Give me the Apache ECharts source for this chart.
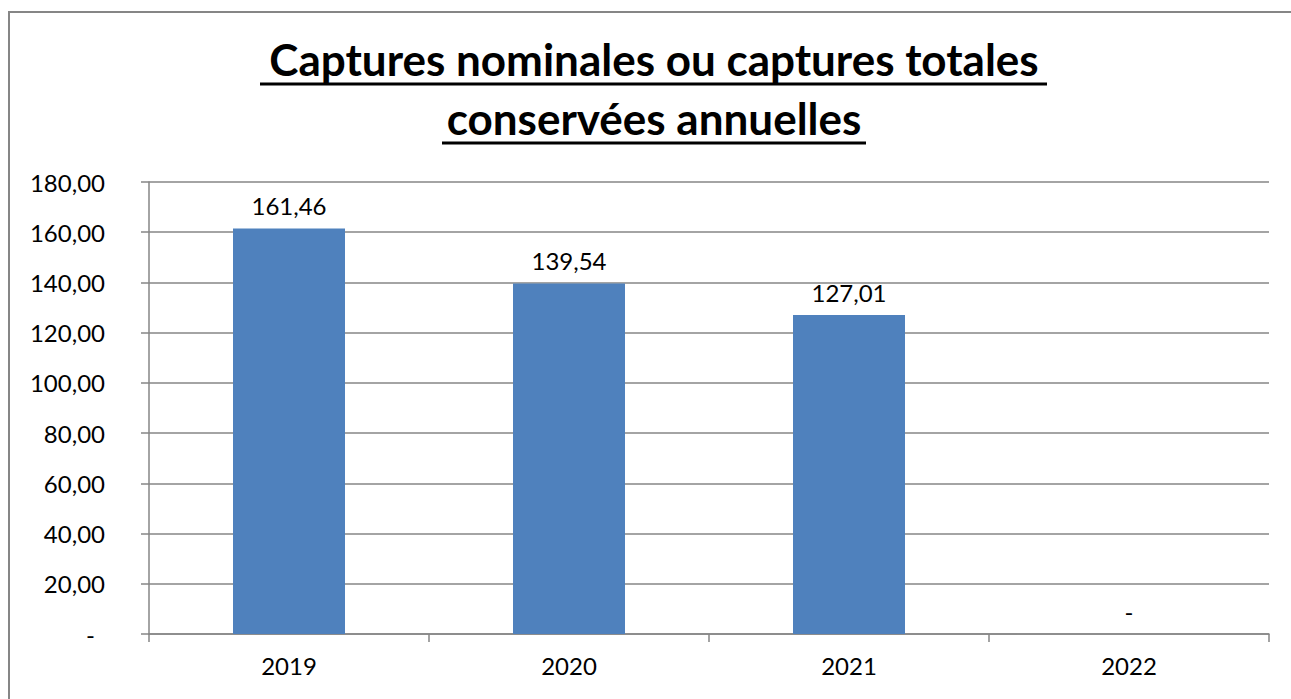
<!DOCTYPE html>
<html>
<head>
<meta charset="utf-8">
<script src="https://cdn.jsdelivr.net/npm/echarts@6/dist/echarts.min.js"></script>
<style>
html, body { margin: 0; padding: 0; background: #fff; overflow: hidden; }
.frame {
  position: absolute;
  left: 8px;
  top: 11px;
  width: 1300px;
  height: 700px;
  border: 2px solid #868686;
  box-sizing: border-box;
}
#chart {
  position: absolute;
  left: 8px;
  top: 11px;
  width: 1292px;
  height: 688px;
}
</style>
</head>
<body>
<div class="frame"></div>
<div id="chart"></div>
<script>
const title = 'Captures nominales ou captures totales\nconservées annuelles'
const years = ['2019', '2020', '2021', '2022']
const catches = [161.46, 139.54, 127.01, 0]
const yTicks = { min: 0, max: 180, interval: 20 }

const fmt = v => v === 0 ? '-' : v.toFixed(2).replace('.', ',')
const font = 'Lato, "Noto Sans", sans-serif'
const gray = '#868686'

const chart = echarts.init(document.getElementById('chart'), null, { renderer: 'svg' })
chart.setOption({
  animation: false,
  textStyle: { fontFamily: font },
  title: {
    text: title,
    left: 'center',
    top: 13,
    textStyle: {
      fontFamily: font,
      fontSize: 44,
      fontWeight: 'bold',
      color: '#000',
      lineHeight: 59
    }
  },
  // underline under the two title lines
  graphic: [
    { type: 'line', shape: { x1: 252, y1: 73, x2: 1039, y2: 73 }, style: { stroke: '#000', lineWidth: 3 } },
    { type: 'line', shape: { x1: 434, y1: 132, x2: 858, y2: 132 }, style: { stroke: '#000', lineWidth: 3 } }
  ],
  grid: {
    left: 141,
    top: 171,
    width: 1120,
    height: 452
  },
  xAxis: {
    type: 'category',
    data: years,
    axisLine: { lineStyle: { color: gray, width: 1.5 } },
    axisTick: { show: true, length: 8, lineStyle: { color: gray, width: 1.5 } },
    axisLabel: { color: '#000', fontSize: 24, margin: 19 }
  },
  yAxis: {
    type: 'value',
    min: yTicks.min,
    max: yTicks.max,
    interval: yTicks.interval,
    axisLine: { show: true, lineStyle: { color: gray, width: 1.5 } },
    axisTick: { show: true, length: 8, lineStyle: { color: gray, width: 1.5 } },
    axisLabel: {
      color: '#000',
      fontSize: 24,
      margin: 44,
      formatter: v => v === 0 ? '{d|-}' : fmt(v),
      rich: { d: { fontSize: 24, color: '#000', padding: [0, 10, 0, 0] } }
    },
    splitLine: { lineStyle: { color: gray, width: 1.5 } }
  },
  series: [{
    type: 'bar',
    data: catches,
    barWidth: '40%',
    itemStyle: { color: '#4F81BD' },
    label: {
      show: true,
      position: 'top',
      distance: 11,
      color: '#000',
      fontSize: 24,
      formatter: p => fmt(p.value)
    }
  }]
})
</script>
</body>
</html>
